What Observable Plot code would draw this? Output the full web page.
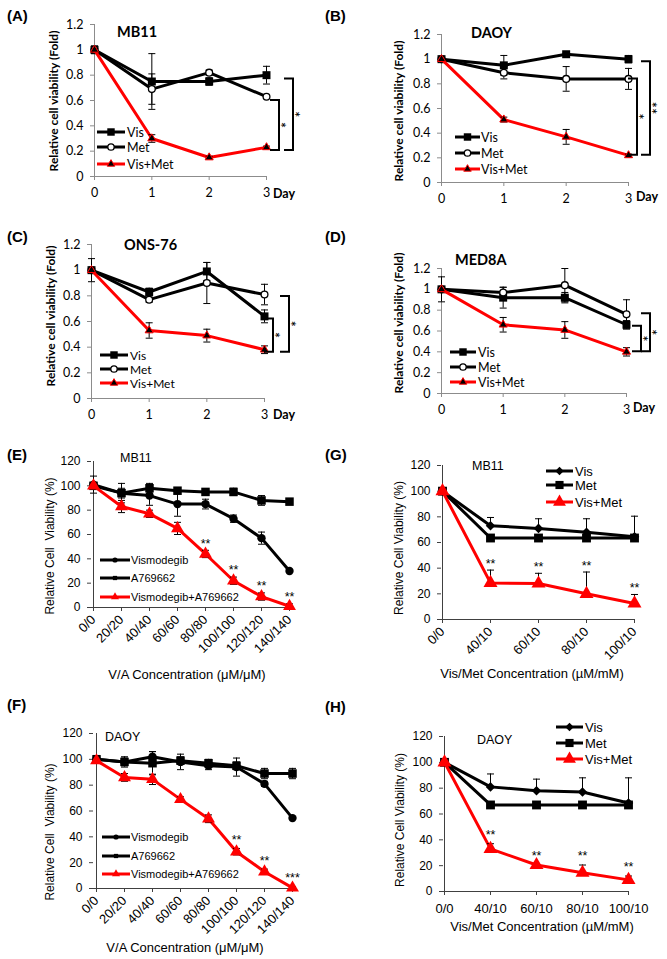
<!DOCTYPE html>
<html><head><meta charset="utf-8">
<script src="https://cdn.jsdelivr.net/npm/d3@7"></script>
<script src="https://cdn.jsdelivr.net/npm/@observablehq/plot@0.6"></script>
<style>
body{margin:0;background:#fff;}
#fig{position:relative;width:667px;height:959px;overflow:hidden;background:#fff;}
.panel{position:absolute;}
.panel svg{overflow:visible;background:transparent;}
.plab{position:absolute;font:bold 15px "Liberation Sans",Arial,sans-serif;line-height:18px;}
</style></head><body><div id="fig"></div><script>
// ---------- data ----------
const days = [0, 1, 2, 3];
const foldTicks = [0, 0.2, 0.4, 0.6, 0.8, 1, 1.2];
const pctTicks = [0, 20, 40, 60, 80, 100, 120];
const seriesAD = ["Vis", "Met", "Vis+Met"];

// (A) MB11
const aVis = [1, 0.75, 0.75, 0.80], aVisErr = [0.03, 0.22, 0.03, 0.07];
const aMet = [1, 0.69, 0.82, 0.63], aMetErr = [0.03, 0.12, 0.02, 0.01];
const aComb = [1, 0.30, 0.15, 0.23], aCombErr = [0.01, 0.03, 0.01, 0.01];
const aBrackets = [{top: 0.77, bottom: 0.205, label: "*"}, {top: 0.60, bottom: 0.205, label: "*"}];
// (B) DAOY
const bVis = [1, 0.95, 1.04, 1.0], bVisErr = [0.01, 0.08, 0.01, 0.03];
const bMet = [1, 0.89, 0.84, 0.84], bMetErr = [0.01, 0.05, 0.10, 0.085];
const bComb = [1, 0.51, 0.37, 0.22], bCombErr = [0.01, 0.02, 0.06, 0.01];
const bBrackets = [{top: 0.84, bottom: 0.22, label: "*"}, {top: 0.98, bottom: 0.22, label: "**"}];
// (C) ONS-76
const cVis = [1, 0.83, 0.99, 0.64], cVisErr = [0.09, 0.03, 0.07, 0.05];
const cMet = [1, 0.77, 0.90, 0.81], cMetErr = [0.02, 0.02, 0.16, 0.08];
const cComb = [1, 0.53, 0.49, 0.38], cCombErr = [0.01, 0.06, 0.05, 0.03];
const cBrackets = [{top: 0.62, bottom: 0.36, label: "*"}, {top: 0.795, bottom: 0.36, label: "*"}];
// (D) MED8A
const dVis = [1, 0.92, 0.92, 0.66], dVisErr = [0.02, 0.10, 0.05, 0.04];
const dMet = [1, 0.97, 1.04, 0.76], dMetErr = [0.12, 0.05, 0.16, 0.14];
const dComb = [1, 0.66, 0.61, 0.40], dCombErr = [0.01, 0.07, 0.08, 0.04];
const dBrackets = [{top: 0.646, bottom: 0.40, label: "*"}, {top: 0.765, bottom: 0.40, label: "*"}];

// (E)/(F) V/A concentrations
const vaConc = ["0/0", "20/20", "40/40", "60/60", "80/80", "100/100", "120/120", "140/140"];
const seriesEF = ["Vismodegib", "A769662", "Vismodegib+A769662"];
const eVis = [101, 94, 92, 85, 85, 73, 57, 30], eVisErr = [7, 8, 8, 10, 4, 3, 5, 1];
const eA = [100, 94, 98, 96, 95, 95, 88, 87], eAErr = [2, 4, 4, 2, 2, 3, 4, 2];
const eComb = [100, 83, 77, 65, 44, 22, 9, 1], eCombErr = [2, 5, 3, 5, 3, 3, 3, 2];
const eStars = ["", "", "", "", "**", "**", "**", "**"];
const fVis = [100, 98, 102, 98, 95, 94, 81, 54.5], fVisErr = [3, 4, 4, 6, 3, 7, 2, 1];
const fA = [100, 98, 97, 99, 97, 95, 89, 89], fAErr = [2, 3, 9, 3, 3, 3, 4, 4];
const fComb = [99, 86, 84.5, 69, 54, 28.5, 13, 0.5], fCombErr = [2, 3, 4, 2, 3, 2.5, 2, 1];
const fStars = ["", "", "", "", "", "**", "**", "***"];

// (G)/(H) Vis/Met concentrations
const vmConc = ["0/0", "40/10", "60/10", "80/10", "100/10"];
const seriesGH = ["Vis", "Met", "Vis+Met"];
const gVis = [100, 73, 71, 68, 64.5], gVisErr = [0, 6.5, 7.5, 10.5, 16];
const gMet = [100, 63.5, 63.5, 63.5, 63.5], gMetErr = [0, 0, 0, 0, 0];
const gComb = [100, 28.5, 28, 20, 12.5], gCombErr = [0, 10, 8, 17, 7];
const gStars = ["", "**", "**", "**", "**"];
const hVis = [100, 81, 78, 77, 68.5], hVisErr = [0, 10, 9, 11, 19.5];
const hMet = [100, 67, 67, 67, 67], hMetErr = [0, 0, 0, 0, 0];
const hComb = [100, 33, 20.5, 14.5, 9], hCombErr = [0, 4, 0, 6, 3];
const hStars = ["", "**", "**", "**", "**"];

// ---------- styles ----------
const FONT_AD = "Lato, 'Open Sans', sans-serif";
const FONT_EH = "'Liberation Sans', Arial, sans-serif";
const stylesAD = {
  "Vis": {line: "black", symbol: "square", r: 4.5, fill: "black", stroke: "black", sw: 0, lr: 4.2},
  "Met": {line: "black", symbol: "circle", r: 3.4, fill: "white", stroke: "black", sw: 1.3, lr: 3.2},
  "Vis+Met": {line: "red", symbol: "triangle", r: 3, fill: "black", stroke: "red", sw: 1, lr: 2.8}
};
const stylesEF = {
  "Vismodegib": {line: "black", symbol: "circle", r: 4.2, fill: "black", stroke: "black", sw: 0, lr: 2.6},
  "A769662": {line: "black", symbol: "square", r: 4.8, fill: "black", stroke: "black", sw: 0, lr: 2.4},
  "Vismodegib+A769662": {line: "red", symbol: "triangle", r: 4.8, fill: "red", stroke: "red", sw: 0, lr: 3}
};
const stylesGH = {
  "Vis": {line: "black", symbol: "diamond2", r: 4.3, fill: "black", stroke: "black", sw: 0, lr: 3.8},
  "Met": {line: "black", symbol: "square", r: 5, fill: "black", stroke: "black", sw: 0, lr: 4.6},
  "Vis+Met": {line: "red", symbol: "triangle", r: 5.2, fill: "red", stroke: "red", sw: 0, lr: 4.8}
};
const SYM = {square: d3.symbolSquare, circle: d3.symbolCircle, triangle: d3.symbolTriangle, diamond2: d3.symbolDiamond2};
const capSym = {draw(ctx, size) { const w = Math.sqrt(size / Math.PI); ctx.moveTo(-w, 0); ctx.lineTo(w, 0); }};

function el(tag, attrs = {}, text) {
  const e = document.createElementNS("http://www.w3.org/2000/svg", tag);
  for (const [k, v] of Object.entries(attrs)) e.setAttribute(k, v);
  if (text != null) e.textContent = text;
  return e;
}

function decor(p) {
  return (index, scales) => {
    const g = el("g");
    const T = (x, y, txt, o = {}) => {
      const t = el("text", {x, y, "font-family": o.font || p.font, "font-size": o.size || 12,
        "font-weight": o.weight || "normal", "text-anchor": o.anchor || "start", fill: "black"}, txt);
      if (o.central) t.setAttribute("dominant-baseline", "central");
      if (o.rotate) t.setAttribute("transform", `rotate(${o.rotate} ${x} ${y})`);
      g.appendChild(t);
    };
    T(p.title.x, p.title.y, p.title.text, {size: p.title.size, weight: p.title.weight});
    T(p.ylab.x, p.ylab.y, p.ylab.text, {size: p.ylab.size, weight: p.ylab.weight, anchor: "middle", rotate: -90, central: true});
    if (p.xlab) T(p.xlab.x, p.xlab.y, p.xlab.text, {size: p.xlab.size, weight: p.xlab.weight, anchor: "middle"});
    // legend
    const L = p.legend;
    p.seriesNames.forEach((name, i) => {
      const st = p.styles[name], y = L.ys[i];
      g.appendChild(el("line", {x1: L.x, x2: L.x + L.len, y1: y, y2: y, stroke: st.line, "stroke-width": p.lineW}));
      g.appendChild(el("path", {d: d3.symbol(SYM[st.symbol], st.lr * st.lr * Math.PI)(),
        transform: `translate(${L.x + L.len / 2},${y})`, fill: st.fill, stroke: st.stroke, "stroke-width": st.sw}));
      T(L.tx, y, name, {size: L.size, central: true});
    });
    // significance brackets
    if (p.brackets) {
      const x0 = scales.x(p.xs[p.xs.length - 1]);
      p.brackets.forEach((b, i) => {
        const x = x0 + p.bracketOff[i], y1 = scales.y(b.top), y2 = scales.y(b.bottom);
        g.appendChild(el("path", {d: `M${x - 9},${y1}H${x}V${y2}H${x - 9}`, fill: "none", stroke: "black", "stroke-width": 2}));
        T(x + 7, (y1 + y2) / 2, b.label, {size: 15, anchor: "middle", rotate: -90, central: true});
      });
    }
    if (p.dayLab) T(p.dayLab.x, p.dayLab.y, "Day", {size: 12.5, weight: "bold"});
    return g;
  };
}

function buildPanel(p) {
  const ax = p.axisColor;
  const marks = [
    Plot.ruleY([0], {stroke: ax, strokeWidth: 1}),
    Plot.ruleX([p.xs[0]], {stroke: ax, strokeWidth: 1}),
    Plot.axisY({ticks: p.yTicks, tickSize: 4, tickPadding: p.yPad, tickFormat: d => String(+d.toFixed(2)),
      stroke: ax, fill: "black", label: null, fontSize: p.tickFont}),
    Plot.axisX(Object.assign({ticks: p.xs, tickSize: 4, tickPadding: p.xPad, tickFormat: d => String(d),
      stroke: ax, fill: "black", label: null, fontSize: p.xTickFont || p.tickFont}, p.xRotate ? {tickRotate: p.xRotate} : {}))
  ];
  p.seriesNames.forEach((name, si) => {
    const st = p.styles[name];
    const vals = p.values[si], errs = p.errors[si];
    const rows = vals.map((v, i) => ({x: p.xs[i], y: v, e: errs[i], lo: p.upOnly ? v : v - errs[i], hi: v + errs[i]}));
    const eb = rows.filter(r => r.e > 0);
    marks.push(Plot.line(rows, {x: "x", y: "y", stroke: st.line, strokeWidth: p.lineW}));
    marks.push(Plot.ruleX(eb, {x: "x", y1: "lo", y2: "hi", stroke: "black", strokeWidth: 1}));
    marks.push(Plot.dot(eb, {x: "x", y: "hi", symbol: capSym, r: p.capR, stroke: "black", fill: "none", strokeWidth: 1}));
    if (!p.upOnly) marks.push(Plot.dot(eb, {x: "x", y: "lo", symbol: capSym, r: p.capR, stroke: "black", fill: "none", strokeWidth: 1}));
    marks.push(Plot.dot(rows, {x: "x", y: "y", symbol: st.symbol, r: st.r, fill: st.fill, stroke: st.stroke, strokeWidth: st.sw}));
  });
  if (p.stars) {
    const si = p.seriesNames.length - 1;
    const rows = p.stars.map((s, i) => ({x: p.xs[i], y: p.values[si][i] + p.errors[si][i] + p.starPad, s})).filter(r => r.s);
    marks.push(Plot.text(rows, {x: "x", y: "y", text: "s", fontSize: 12.5, fill: "black", dy: 3}));
  }
  marks.push(decor(p));
  const svg = Plot.plot({
    width: p.width, height: p.height,
    marginTop: p.m[0], marginRight: p.m[1], marginBottom: p.m[2], marginLeft: p.m[3],
    x: p.point ? {type: "point", domain: p.xs, padding: 0} : {type: "linear", domain: [p.xs[0], p.xs[p.xs.length - 1]]},
    y: {domain: [0, p.yTicks[p.yTicks.length - 1]]},
    style: {fontFamily: p.font, fontSize: p.tickFont + "px", background: "transparent", overflow: "visible", color: "black"},
    marks
  });
  const div = document.createElement("div");
  div.className = "panel";
  div.style.left = p.left + "px"; div.style.top = p.top + "px";
  div.appendChild(svg);
  document.getElementById("fig").appendChild(div);
  const lab = document.createElement("div");
  lab.className = "plab"; lab.textContent = p.tag;
  lab.style.left = p.tagPos[0] + "px"; lab.style.top = p.tagPos[1] + "px";
  document.getElementById("fig").appendChild(lab);
}

const baseAD = {xs: days, yTicks: foldTicks, seriesNames: seriesAD, styles: stylesAD, font: FONT_AD, axisColor: "#8c8c8c",
  tickFont: 12.5, yPad: 7, xPad: 8, lineW: 3, capR: 3.5, bracketOff: [0, 0]};
const ylabAD = {text: "Relative cell viability (Fold)", size: 12, weight: "bold"};
buildPanel({...baseAD, tag: "(A)", tagPos: [7, 7], left: 0, top: 0, width: 333, height: 225, m: [24, 67, 49, 94],
  values: [aVis, aMet, aComb], errors: [aVisErr, aMetErr, aCombErr], brackets: aBrackets, bracketOff: [27, 13],
  title: {x: 117, y: 37, text: "MB11", size: 14.5, weight: "bold"}, ylab: {...ylabAD, x: 53, y: 101},
  dayLab: {x: 273, y: 198}, legend: {x: 97, len: 28, ys: [132, 147, 164], tx: 127, size: 12.5}});
buildPanel({...baseAD, tag: "(B)", tagPos: [325, 7], left: 333, top: 0, width: 334, height: 225, m: [34, 39, 43, 108],
  values: [bVis, bMet, bComb], errors: [bVisErr, bMetErr, bCombErr], brackets: bBrackets, bracketOff: [9, 22],
  title: {x: 138, y: 38, text: "DAOY", size: 14.5, weight: "bold"}, ylab: {...ylabAD, x: 65, y: 111},
  dayLab: {x: 303, y: 201}, legend: {x: 122, len: 25, ys: [137, 153, 169], tx: 148, size: 12.5}});
buildPanel({...baseAD, tag: "(C)", tagPos: [7, 228], left: 0, top: 228, width: 333, height: 222, m: [16, 69, 52, 91],
  values: [cVis, cMet, cComb], errors: [cVisErr, cMetErr, cCombErr], brackets: cBrackets, bracketOff: [9, 25],
  title: {x: 124, y: 22, text: "ONS-76", size: 14.5, weight: "bold"}, ylab: {...ylabAD, x: 50, y: 88},
  dayLab: {x: 273, y: 191}, legend: {x: 100, len: 28, ys: [127, 141, 155], tx: 130, size: 12}});
buildPanel({...baseAD, tag: "(D)", tagPos: [325, 228], left: 333, top: 228, width: 334, height: 222, m: [40, 41, 57, 108],
  values: [dVis, dMet, dComb], errors: [dVisErr, dMetErr, dCombErr], brackets: dBrackets, bracketOff: [15, 24],
  title: {x: 122, y: 37, text: "MED8A", size: 14.5, weight: "bold"}, ylab: {...ylabAD, x: 65, y: 95},
  dayLab: {x: 300, y: 184}, legend: {x: 117, len: 26, ys: [124, 139, 154], tx: 145, size: 12.5}});

const baseEH = {yTicks: pctTicks, font: FONT_EH, axisColor: "#404040", tickFont: 12, xTickFont: 13, yPad: 7, xPad: 6, lineW: 3, capR: 3.5, point: true};
const ylabEF = {text: "Relative Cell  Viability (%)", size: 12};
const ylabGH = {text: "Relative Cell Viability (%)", size: 12};
buildPanel({...baseEH, tag: "(E)", tagPos: [7, 446], left: 0, top: 450, width: 333, height: 250, m: [11, 42, 93, 91],
  xs: vaConc, xRotate: -45, seriesNames: seriesEF, styles: stylesEF,
  values: [eVis, eA, eComb], errors: [eVisErr, eAErr, eCombErr], stars: eStars, starPad: 8,
  title: {x: 120, y: 12, text: "MB11", size: 12.5}, ylab: {...ylabEF, x: 50, y: 96},
  xlab: {x: 187, y: 229, text: "V/A Concentration (\u03bcM/\u03bcM)", size: 13},
  legend: {x: 100, len: 30, ys: [110, 128, 147], tx: 131, size: 11}});
buildPanel({...baseEH, tag: "(F)", tagPos: [7, 696], left: 0, top: 700, width: 333, height: 259, m: [33, 38, 71, 93],
  xs: vaConc, xRotate: -45, seriesNames: seriesEF, styles: stylesEF,
  values: [fVis, fA, fComb], errors: [fVisErr, fAErr, fCombErr], stars: fStars, starPad: 9,
  title: {x: 105, y: 41, text: "DAOY", size: 12.5}, ylab: {...ylabEF, x: 50, y: 132},
  xlab: {x: 185, y: 252, text: "V/A Concentration (\u03bcM/\u03bcM)", size: 13},
  legend: {x: 102, len: 28, ys: [137, 156, 174], tx: 131, size: 11}});
buildPanel({...baseEH, tag: "(G)", tagPos: [325, 446], left: 333, top: 450, width: 334, height: 250, m: [15, 33, 81, 108],
  xs: vmConc, xRotate: -45, seriesNames: seriesGH, styles: stylesGH, upOnly: true,
  values: [gVis, gMet, gComb], errors: [gVisErr, gMetErr, gCombErr], stars: gStars, starPad: 7,
  title: {x: 139, y: 20, text: "MB11", size: 12.5}, ylab: {...ylabGH, x: 66, y: 98},
  xlab: {x: 199, y: 228, text: "Vis/Met Concentration (\u00b5M/mM)", size: 13},
  legend: {x: 213, len: 27, ys: [21, 35, 52], tx: 242, size: 13}});
buildPanel({...baseEH, tag: "(H)", tagPos: [325, 698], left: 333, top: 700, width: 334, height: 259, m: [36, 39, 68, 110],
  xs: vmConc, xPad: 8, seriesNames: seriesGH, styles: stylesGH, upOnly: true,
  values: [hVis, hMet, hComb], errors: [hVisErr, hMetErr, hCombErr], stars: hStars, starPad: 9,
  title: {x: 144, y: 44, text: "DAOY", size: 12.5}, ylab: {...ylabGH, x: 67, y: 120},
  xlab: {x: 209, y: 231, text: "Vis/Met Concentration (\u00b5M/mM)", size: 13},
  legend: {x: 223, len: 27, ys: [27, 43, 59], tx: 252, size: 13}});
</script></body></html>
